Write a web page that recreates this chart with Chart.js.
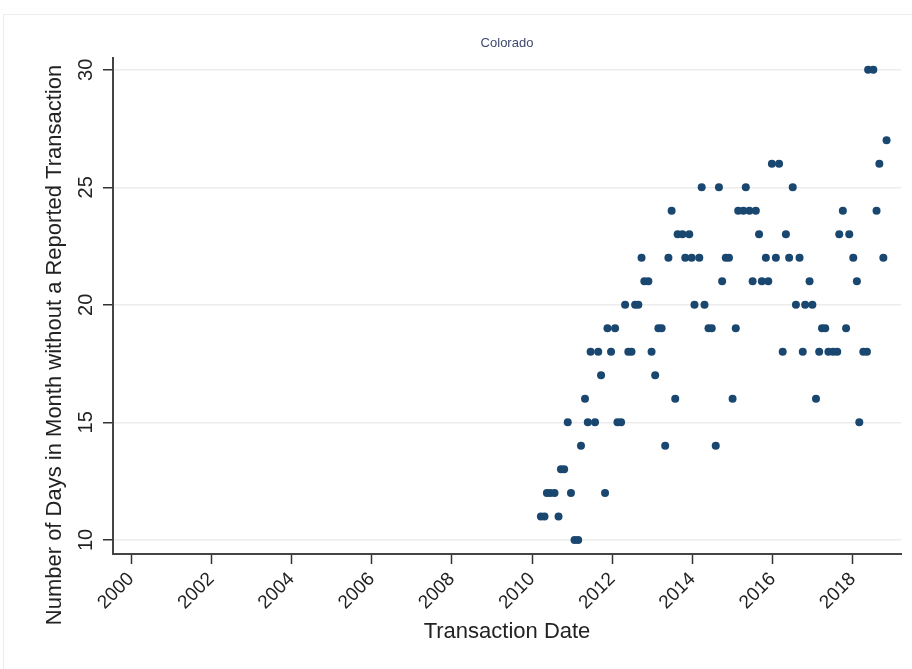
<!DOCTYPE html>
<html>
<head>
<meta charset="utf-8">
<script src="https://cdn.jsdelivr.net/npm/chart.js@4.4.1/dist/chart.umd.min.js"></script>
<style>
  html, body { margin: 0; padding: 0; background: #fff; }
  #wrap { position: relative; width: 912px; height: 669px; }
  #frame { position: absolute; left: 3px; top: 14px; right: 0; bottom: 0;
           border-top: 1px solid #ececec; border-left: 1px solid #ececec; pointer-events: none; }
</style>
</head>
<body>
<div id="wrap">
  <canvas id="chart" width="912" height="669"></canvas>
  <div id="frame"></div>
</div>
<script>
const panelTitle = 'Colorado';
const xTitle = 'Transaction Date';
const yTitle = 'Number of Days in Month without a Reported Transaction';

const xTicks = [2000, 2002, 2004, 2006, 2008, 2010, 2012, 2014, 2016, 2018];
const yTicks = [10, 15, 20, 25, 30];

// transaction month (decimal year) and days without a reported transaction
const dates = [
  2010.22, 2010.31, 2010.37, 2010.45, 2010.56, 2010.66, 2010.72, 2010.80, 2010.89, 2010.97,
  2011.06, 2011.15, 2011.22, 2011.32, 2011.39, 2011.46, 2011.57, 2011.65, 2011.72, 2011.82,
  2011.88, 2011.97, 2012.07, 2012.13, 2012.22, 2012.32, 2012.40, 2012.48, 2012.57, 2012.65,
  2012.73, 2012.80, 2012.90, 2012.98, 2013.07, 2013.15, 2013.23, 2013.32, 2013.40, 2013.48,
  2013.57, 2013.63, 2013.75, 2013.82, 2013.92, 2013.98, 2014.05, 2014.17, 2014.23, 2014.30,
  2014.40, 2014.48, 2014.58, 2014.66, 2014.74, 2014.83, 2014.91, 2015.00, 2015.08, 2015.14,
  2015.27, 2015.33, 2015.42, 2015.50, 2015.58, 2015.66, 2015.73, 2015.83, 2015.89, 2015.98,
  2016.08, 2016.16, 2016.25, 2016.33, 2016.41, 2016.50, 2016.58, 2016.67, 2016.75, 2016.81,
  2016.92, 2016.99, 2017.08, 2017.16, 2017.23, 2017.31, 2017.39, 2017.51, 2017.61, 2017.66,
  2017.75, 2017.83, 2017.91, 2018.01, 2018.10, 2018.16, 2018.26, 2018.35, 2018.38, 2018.51,
  2018.59, 2018.66, 2018.76, 2018.84
];
const days = [
  11, 11, 12, 12, 12, 11, 13, 13, 15, 12,
  10, 10, 14, 16, 15, 18, 15, 18, 17, 12,
  19, 18, 19, 15, 15, 20, 18, 18, 20, 20,
  22, 21, 21, 18, 17, 19, 19, 14, 22, 24,
  16, 23, 23, 22, 23, 22, 20, 22, 25, 20,
  19, 19, 14, 25, 21, 22, 22, 16, 19, 24,
  24, 25, 24, 21, 24, 23, 21, 22, 21, 26,
  22, 26, 18, 23, 22, 25, 20, 22, 18, 20,
  21, 20, 16, 18, 19, 19, 18, 18, 18, 23,
  24, 19, 23, 22, 21, 15, 18, 18, 30, 30,
  24, 26, 22, 27
];

const fontFamily = '"Liberation Sans", Arial, Helvetica, sans-serif';

const textPlugin = {
  id: 'stataTexts',
  afterDraw(chart) {
    const ctx = chart.ctx;
    const a = chart.chartArea;
    ctx.save();
    ctx.textAlign = 'center';
    ctx.textBaseline = 'middle';

    ctx.fillStyle = '#3d4a6d';
    ctx.font = '13px ' + fontFamily;
    ctx.fillText(panelTitle, (a.left + a.right) / 2, a.top - 15);

    ctx.fillStyle = '#222';
    ctx.font = '22px ' + fontFamily;
    ctx.fillText(xTitle, (a.left + a.right) / 2, a.bottom + 78);

    ctx.translate(55, a.bottom - 209);
    ctx.rotate(-Math.PI / 2);
    ctx.fillText(yTitle, 0, 0);
    ctx.restore();
  }
};

new Chart(document.getElementById('chart'), {
  type: 'scatter',
  data: {
    datasets: [{
      data: dates.map((d, i) => ({ x: d, y: days[i] })),
      backgroundColor: '#1a476f',
      borderColor: '#1a476f',
      borderWidth: 0,
      pointRadius: 4,
      pointHoverRadius: 4
    }]
  },
  options: {
    responsive: false,
    animation: false,
    layout: { padding: { top: 58, right: 11, left: 0, bottom: 0 } },
    plugins: {
      legend: { display: false },
      tooltip: { enabled: false }
    },
    scales: {
      x: {
        type: 'linear',
        min: 1999.55,
        max: 2019.2,
        afterBuildTicks: s => { s.ticks = xTicks.map(v => ({ value: v })); },
        afterFit: s => { s.height = 115; },
        grid: { drawOnChartArea: false, drawTicks: true, tickLength: 10, tickColor: '#333', tickWidth: 1.5 },
        border: { color: '#444', width: 2 },
        ticks: {
          autoSkip: false, minRotation: 45, maxRotation: 45, padding: 4,
          color: '#222', font: { family: fontFamily, size: 19 },
          callback: v => String(v)
        }
      },
      y: {
        type: 'linear',
        min: 9.4,
        max: 30.5,
        afterBuildTicks: s => { s.ticks = yTicks.map(v => ({ value: v })); },
        afterFit: s => { s.width = 113; },
        grid: { color: '#ececec', lineWidth: 1.5, drawTicks: true, tickLength: 10, tickColor: '#333', tickWidth: 1.5 },
        border: { color: '#444', width: 2 },
        ticks: {
          autoSkip: false, minRotation: 90, maxRotation: 90, crossAlign: 'center', padding: 5,
          color: '#222', font: { family: fontFamily, size: 20 },
          callback: v => String(v)
        }
      }
    }
  },
  plugins: [textPlugin]
});
</script>
</body>
</html>
